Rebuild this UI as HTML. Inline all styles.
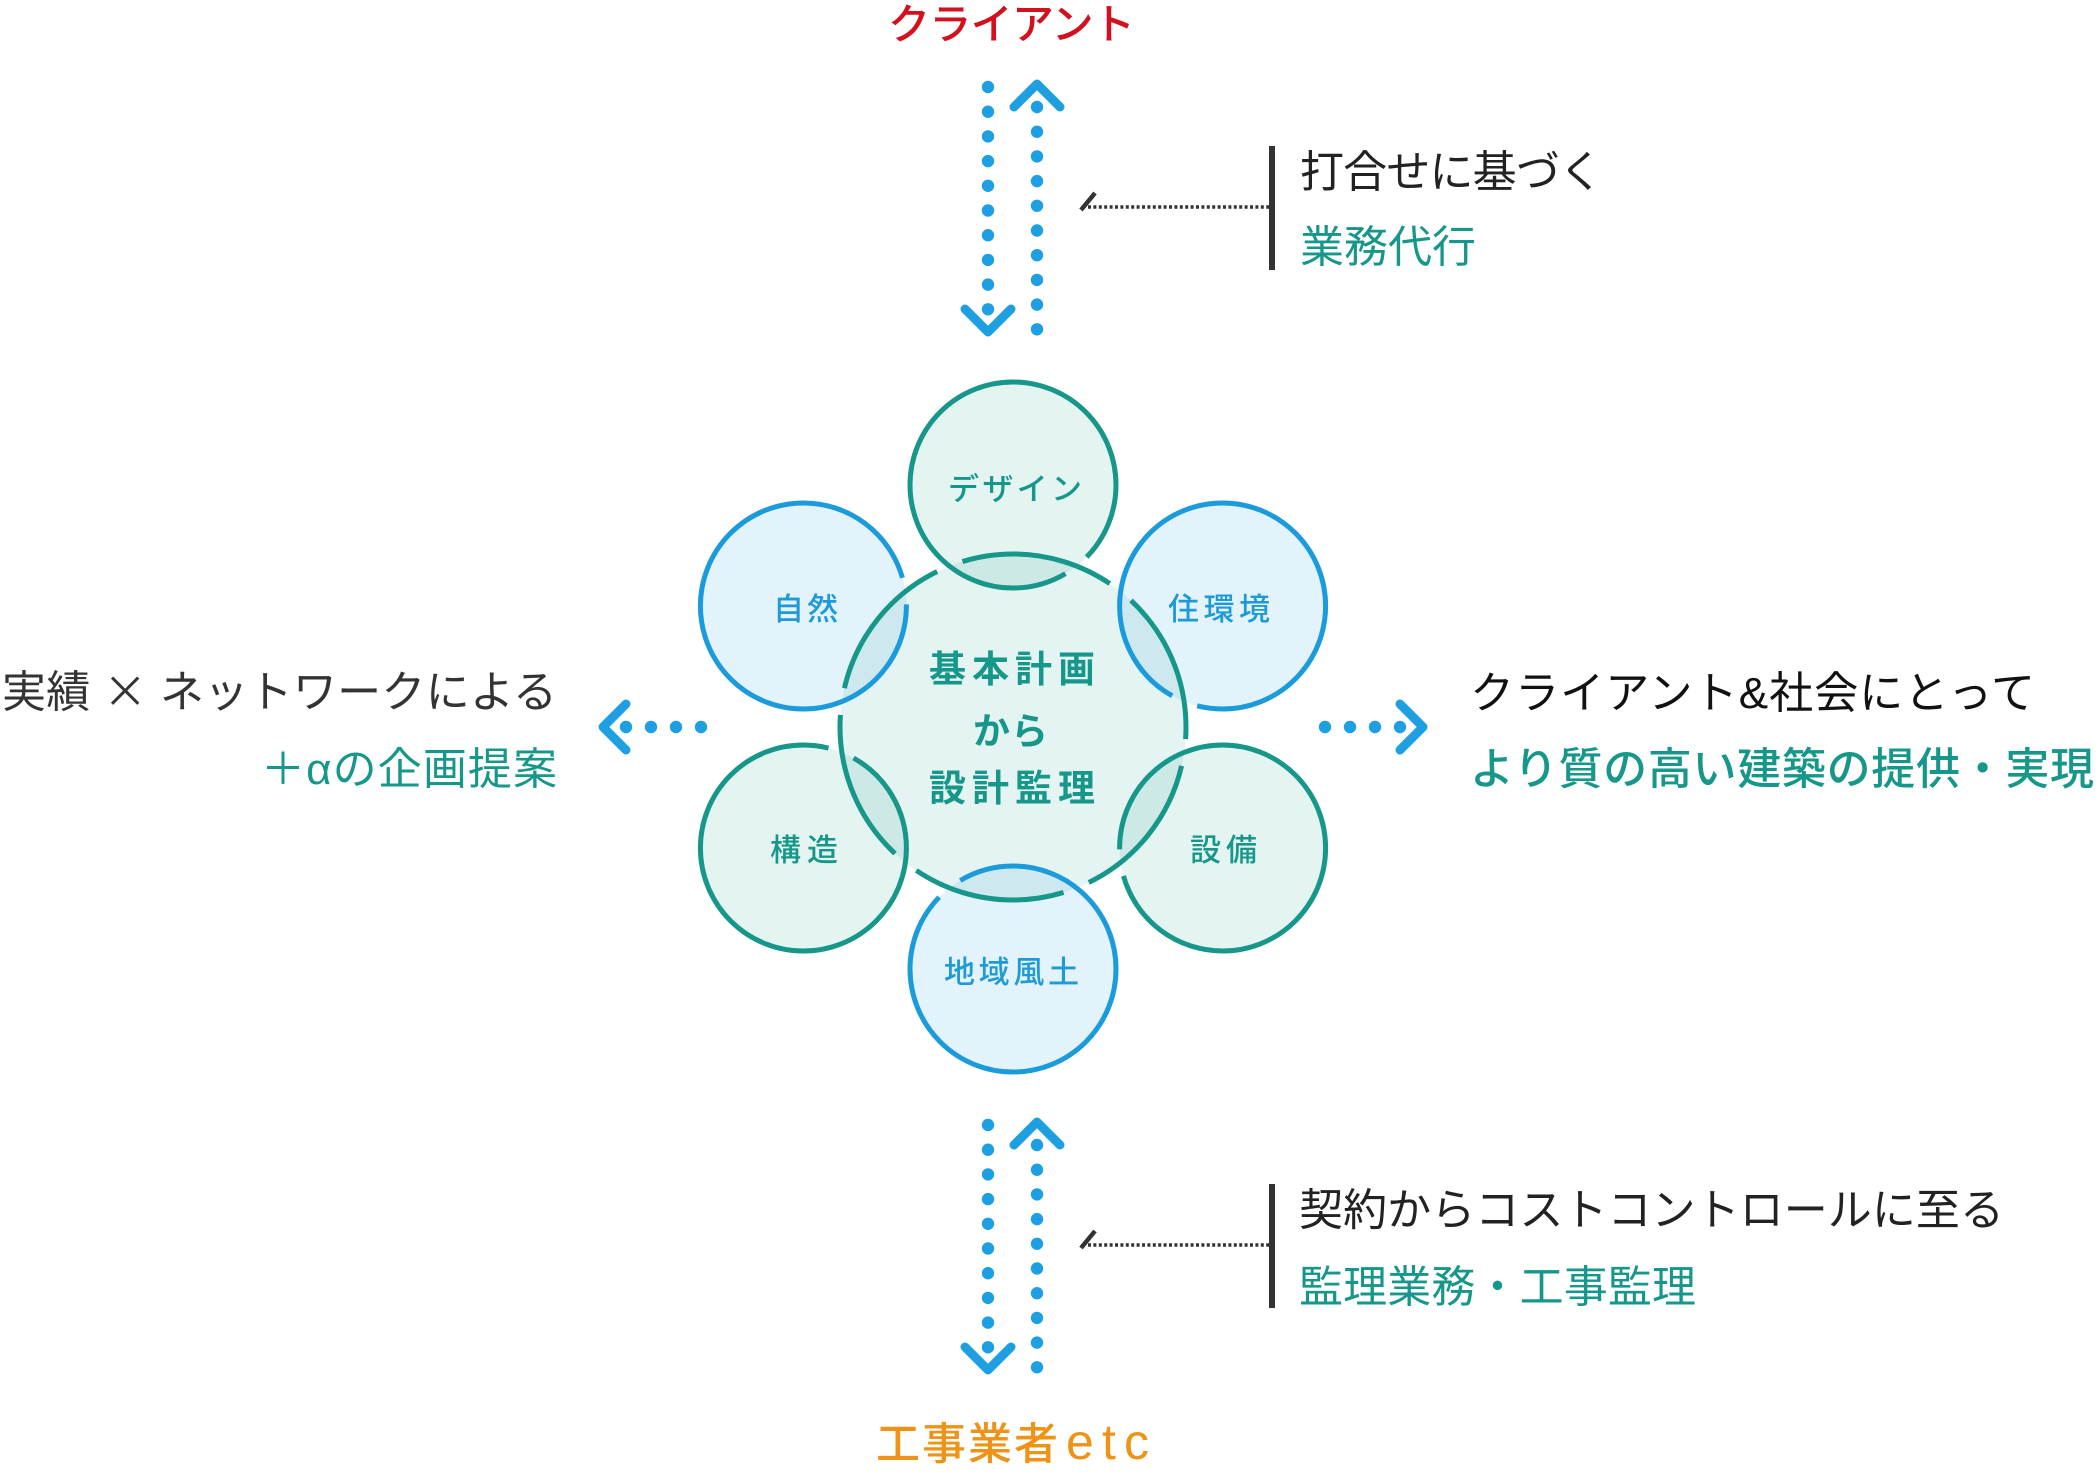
<!DOCTYPE html>
<html lang="ja">
<head>
<meta charset="utf-8">
<style>
html,body{margin:0;padding:0;background:#fff;}
svg{display:block;}
text{font-family:"Liberation Sans","Noto Sans CJK JP",sans-serif;}
</style>
</head>
<body>
<svg width="2098" height="1474" viewBox="0 0 2098 1474" xmlns="http://www.w3.org/2000/svg">
<defs>
<clipPath id="cc"><circle cx="1013" cy="727" r="173"/></clipPath>
</defs>
<rect width="2098" height="1474" fill="#ffffff"/>

<!-- fills -->
<circle cx="1013" cy="727" r="173" fill="#e4f4f2"/>
<circle cx="1013" cy="485" r="103" fill="#e3f4f1"/>
<circle cx="1222.6" cy="606" r="103" fill="#e2f3fb"/>
<circle cx="1222.6" cy="848" r="103" fill="#e3f4f1"/>
<circle cx="1013" cy="969" r="103" fill="#e2f3fb"/>
<circle cx="803.4" cy="848" r="103" fill="#e3f4f1"/>
<circle cx="803.4" cy="606" r="103" fill="#e2f3fb"/>

<!-- lenses -->
<g clip-path="url(#cc)">
<circle cx="1013" cy="485" r="103" fill="#cce9e6"/>
<circle cx="1222.6" cy="606" r="103" fill="#cde9ef"/>
<circle cx="1222.6" cy="848" r="103" fill="#cce9e6"/>
<circle cx="1013" cy="969" r="103" fill="#cde9ef"/>
<circle cx="803.4" cy="848" r="103" fill="#cce9e6"/>
<circle cx="803.4" cy="606" r="103" fill="#cde9ef"/>
</g>

<!-- strokes -->
<circle cx="1013" cy="727" r="173" fill="none" stroke="#16978a" stroke-width="5" pathLength="360" stroke-dasharray="51 9" stroke-dashoffset="47"/>
<circle cx="1013" cy="485" r="103" fill="none" stroke="#16978a" stroke-width="5" pathLength="360" stroke-dasharray="345 15" stroke-dashoffset="300.6"/>
<circle cx="1222.6" cy="606" r="103" fill="none" stroke="#1c9bdc" stroke-width="5" pathLength="360" stroke-dasharray="345 15" stroke-dashoffset="240.6"/>
<circle cx="1222.6" cy="848" r="103" fill="none" stroke="#16978a" stroke-width="5" pathLength="360" stroke-dasharray="345 15" stroke-dashoffset="180.6"/>
<circle cx="1013" cy="969" r="103" fill="none" stroke="#1c9bdc" stroke-width="5" pathLength="360" stroke-dasharray="345 15" stroke-dashoffset="120.6"/>
<circle cx="803.4" cy="848" r="103" fill="none" stroke="#16978a" stroke-width="5" pathLength="360" stroke-dasharray="345 15" stroke-dashoffset="60.6"/>
<circle cx="803.4" cy="606" r="103" fill="none" stroke="#1c9bdc" stroke-width="5" pathLength="360" stroke-dasharray="345 15" stroke-dashoffset="0.6"/>

<!-- circle labels -->
<g font-size="37" font-weight="700" fill="#16978a">
<text x="929" y="682" textLength="166" lengthAdjust="spacing">基本計画</text>
<text x="973" y="744" textLength="75" lengthAdjust="spacing">から</text>
<text x="929" y="801" textLength="166" lengthAdjust="spacing">設計監理</text>
</g>
<g font-size="31" font-weight="500">
<text x="948" y="500" textLength="134" lengthAdjust="spacing" fill="#16978a">デザイン</text>
<text x="773" y="620" textLength="65" lengthAdjust="spacing" fill="#1f9ad6">自然</text>
<text x="1168" y="620" textLength="102" lengthAdjust="spacing" fill="#1f9ad6">住環境</text>
<text x="770" y="861" textLength="68" lengthAdjust="spacing" fill="#16978a">構造</text>
<text x="1190" y="861" textLength="67" lengthAdjust="spacing" fill="#16978a">設備</text>
<text x="944" y="983" textLength="135" lengthAdjust="spacing" fill="#1f9ad6">地域風土</text>
</g>

<!-- blue arrows -->
<g fill="#1d9fe2">
<circle cx="988" cy="87" r="6.2"/><circle cx="988" cy="111.7" r="6.2"/><circle cx="988" cy="136.4" r="6.2"/><circle cx="988" cy="161.1" r="6.2"/><circle cx="988" cy="185.8" r="6.2"/><circle cx="988" cy="210.5" r="6.2"/><circle cx="988" cy="235.2" r="6.2"/><circle cx="988" cy="259.9" r="6.2"/><circle cx="988" cy="284.6" r="6.2"/><circle cx="988" cy="309.3" r="6.2"/>
<circle cx="1037" cy="107" r="6.2"/><circle cx="1037" cy="131.7" r="6.2"/><circle cx="1037" cy="156.4" r="6.2"/><circle cx="1037" cy="181.1" r="6.2"/><circle cx="1037" cy="205.8" r="6.2"/><circle cx="1037" cy="230.5" r="6.2"/><circle cx="1037" cy="255.2" r="6.2"/><circle cx="1037" cy="279.9" r="6.2"/><circle cx="1037" cy="304.6" r="6.2"/><circle cx="1037" cy="329.3" r="6.2"/>
<circle cx="988" cy="1125" r="6.2"/><circle cx="988" cy="1149.7" r="6.2"/><circle cx="988" cy="1174.4" r="6.2"/><circle cx="988" cy="1199.1" r="6.2"/><circle cx="988" cy="1223.8" r="6.2"/><circle cx="988" cy="1248.5" r="6.2"/><circle cx="988" cy="1273.2" r="6.2"/><circle cx="988" cy="1297.9" r="6.2"/><circle cx="988" cy="1322.6" r="6.2"/><circle cx="988" cy="1347.3" r="6.2"/>
<circle cx="1037" cy="1145" r="6.2"/><circle cx="1037" cy="1169.7" r="6.2"/><circle cx="1037" cy="1194.4" r="6.2"/><circle cx="1037" cy="1219.1" r="6.2"/><circle cx="1037" cy="1243.8" r="6.2"/><circle cx="1037" cy="1268.5" r="6.2"/><circle cx="1037" cy="1293.2" r="6.2"/><circle cx="1037" cy="1317.9" r="6.2"/><circle cx="1037" cy="1342.6" r="6.2"/><circle cx="1037" cy="1367.3" r="6.2"/>
<circle cx="626" cy="727" r="6.2"/><circle cx="651" cy="727" r="6.2"/><circle cx="676" cy="727" r="6.2"/><circle cx="701" cy="727" r="6.2"/>
<circle cx="1400" cy="727" r="6.2"/><circle cx="1375" cy="727" r="6.2"/><circle cx="1350" cy="727" r="6.2"/><circle cx="1325" cy="727" r="6.2"/>
</g>
<g fill="none" stroke="#1d9fe2" stroke-width="9" stroke-linecap="round" stroke-linejoin="round">
<polyline points="965,309 988,332 1011,309"/>
<polyline points="1014,107 1037,84 1060,107"/>
<polyline points="965,1347 988,1370 1011,1347"/>
<polyline points="1014,1145 1037,1122 1060,1145"/>
<polyline points="626,704 603,727 626,750"/>
<polyline points="1400,704 1423,727 1400,750"/>
</g>

<!-- callout connectors -->
<g stroke="#333333">
<line x1="1088" y1="207" x2="1270" y2="207" stroke-width="3.5" stroke-dasharray="3 2.4"/>
<line x1="1081" y1="210" x2="1095" y2="193" stroke-width="4.5"/>
<line x1="1088" y1="1245" x2="1270" y2="1245" stroke-width="3.5" stroke-dasharray="3 2.4"/>
<line x1="1081" y1="1248" x2="1095" y2="1231" stroke-width="4.5"/>
</g>
<rect x="1269" y="146" width="6" height="124" fill="#333333"/>
<rect x="1269" y="1184" width="6" height="124" fill="#333333"/>

<!-- outer labels -->
<g font-size="44">
<text x="888" y="39" font-size="42" font-weight="500" textLength="247" lengthAdjust="spacing" fill="#d3101e">クライアント</text>
<text x="1300" y="187" textLength="303" lengthAdjust="spacing" fill="#222222">打合せに基づく</text>
<text x="1300" y="262" textLength="176" lengthAdjust="spacing" fill="#16978a">業務代行</text>
<text x="2" y="707" textLength="555" lengthAdjust="spacing" fill="#333333">実績 <tspan font-family="Noto Sans CJK JP, sans-serif">×</tspan> ネットワークによる</text>
<text x="261" y="784" textLength="296" lengthAdjust="spacing" fill="#16978a">＋αの企画提案</text>
<text x="1470" y="708" textLength="565" lengthAdjust="spacing" fill="#111111">クライアント&amp;社会にとって</text>
<text x="1470" y="784" textLength="624" lengthAdjust="spacing" fill="#16978a" font-weight="500">より質の高い建築の提供・実現</text>
<text x="1299" y="1225" textLength="705" lengthAdjust="spacing" fill="#222222">契約からコストコントロールに至る</text>
<text x="1299" y="1302" textLength="397" lengthAdjust="spacing" fill="#16978a">監理業務・工事監理</text>
<text x="876" y="1459" font-weight="500" textLength="182" lengthAdjust="spacing" fill="#ec9318">工事業者</text>
<text x="1066" y="1459" font-size="50" textLength="83" lengthAdjust="spacing" fill="#ec9318">etc</text>
</g>
</svg>
</body>
</html>
